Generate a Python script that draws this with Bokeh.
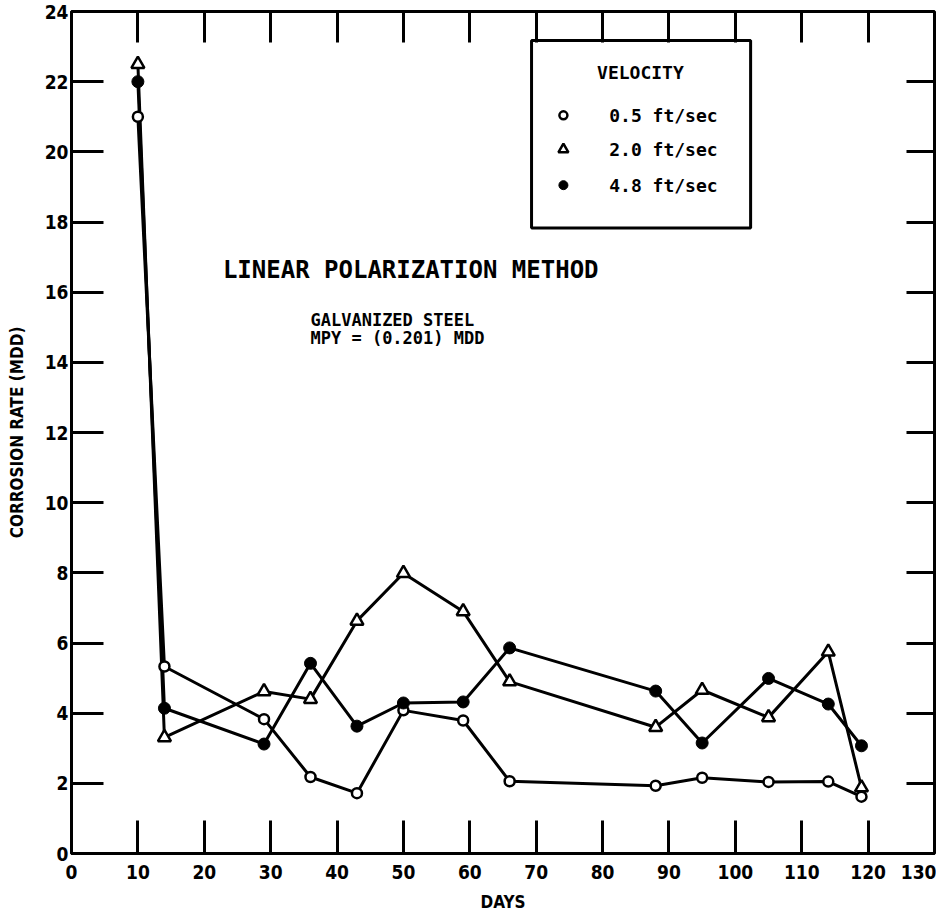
from bokeh.plotting import figure
from bokeh.models import LinearAxis, FixedTicker, Label, BoxAnnotation, Range1d
from bokeh.embed import file_html
from bokeh.resources import INLINE

# ---- data ----
days = [10, 14, 29, 36, 43, 50, 59, 66, 88, 95, 105, 114, 119]
rate_05 = [21.0, 5.33, 3.83, 2.18, 1.72, 4.08, 3.79, 2.06, 1.93, 2.16, 2.04, 2.05, 1.62]
rate_20 = [22.5, 3.31, 4.62, 4.40, 6.63, 7.99, 6.90, 4.90, 3.60, 4.66, 3.88, 5.75, 1.88]
rate_48 = [22.0, 4.14, 3.12, 5.42, 3.63, 4.29, 4.32, 5.86, 4.63, 3.15, 4.99, 4.26, 3.07]
series_labels = ["0.5 ft/sec", "2.0 ft/sec", "4.8 ft/sec"]
x_ticks = [0, 10, 20, 30, 40, 50, 60, 70, 80, 90, 100, 110, 120, 130]
y_ticks = [0, 2, 4, 6, 8, 10, 12, 14, 16, 18, 20, 22, 24]

COND = "DejaVu Sans Condensed, Roboto"
MONO = "DejaVu Sans Mono"

p = figure(width=936, height=914,
           x_range=Range1d(0, 130), y_range=Range1d(0, 24),
           output_backend="svg", toolbar_location=None,
           min_border_left=71, min_border_right=2,
           min_border_top=11, min_border_bottom=56)
p.grid.visible = False
p.outline_line_color = "black"
p.outline_line_width = 3
p.background_fill_color = "white"

# bottom axis: inward ticks as minor ticks; the last label sits just inside the corner
last_label_pos = 128.5
xa = p.xaxis[0]
xa.ticker = FixedTicker(ticks=x_ticks[:-1] + [last_label_pos], minor_ticks=x_ticks[1:-1])
xa.major_label_overrides = {last_label_pos: str(x_ticks[-1])}
xa.major_tick_line_color = None
xa.major_tick_in = 0
xa.major_tick_out = 0
xa.minor_tick_in = 33
xa.minor_tick_out = 0
xa.minor_tick_line_width = 3
xa.minor_tick_line_color = "black"
xa.major_label_text_font = COND
xa.major_label_text_font_style = "bold"
xa.major_label_text_font_size = "19px"
xa.major_label_text_color = "black"
xa.major_label_standoff = 11
xa.axis_line_width = 3
xa.axis_label = "DAYS"
xa.axis_label_text_font = COND
xa.axis_label_text_font_style = "bold"
xa.axis_label_text_font_size = "17px"
xa.axis_label_text_color = "black"
xa.axis_label_standoff = 10

ya = p.yaxis[0]
ya.ticker = FixedTicker(ticks=y_ticks)
ya.major_tick_in = 32
ya.major_tick_out = 0
ya.major_tick_line_width = 3
ya.minor_tick_line_color = None
ya.major_label_text_font = COND
ya.major_label_text_font_style = "bold"
ya.major_label_text_font_size = "19px"
ya.major_label_text_color = "black"
ya.major_label_standoff = 3
ya.axis_line_width = 3
ya.axis_label = "CORROSION RATE (MDD)"
ya.axis_label_text_font = COND
ya.axis_label_text_font_style = "bold"
ya.axis_label_text_font_size = "17px"
ya.axis_label_text_color = "black"
ya.axis_label_standoff = 15

top_axis = LinearAxis(ticker=FixedTicker(ticks=[], minor_ticks=x_ticks[1:-1]),
                      major_tick_line_color=None, major_tick_in=0, major_tick_out=0,
                      minor_tick_in=31, minor_tick_out=0, minor_tick_line_width=3,
                      minor_tick_line_color="black", axis_line_color=None,
                      major_label_standoff=0)
p.add_layout(top_axis, "above")
right_axis = LinearAxis(ticker=FixedTicker(ticks=[], minor_ticks=y_ticks[1:-1]),
                        major_tick_line_color=None, major_tick_in=0, major_tick_out=0,
                        minor_tick_in=28, minor_tick_out=0, minor_tick_line_width=3,
                        minor_tick_line_color="black", axis_line_color=None,
                        major_label_standoff=0)
p.add_layout(right_axis, "right")

# series
series = [rate_05, rate_20, rate_48]
for vals in series:
    p.line(days, vals, line_color="black", line_width=3)

marker_styles = [
    dict(marker="circle", size=10, fill_color="white", line_color="black", line_width=2.5),
    dict(marker="triangle", size=13, fill_color="white", line_color="black", line_width=2.5),
    dict(marker="circle", size=12, fill_color="black", line_color="black", line_width=1),
]
for vals, st in zip(series, marker_styles):
    p.scatter(days, vals, **st)

# legend box (hand-built)
p.add_layout(BoxAnnotation(left=69.3, right=102.3, top=23.17, bottom=17.83,
                           fill_color=None, line_color="black", line_alpha=1.0,
                           line_width=3))
p.add_layout(Label(x=85.7, y=22.26, text="VELOCITY", text_align="center",
                   text_baseline="middle", text_font=MONO, text_font_style="bold",
                   text_font_size="18px", text_color="black"))
legend_rows = [21.04, 20.07, 19.05]
legend_sizes = [8, 10, 9]
for lab, st, ry, sz in zip(series_labels, marker_styles, legend_rows, legend_sizes):
    st2 = dict(st)
    st2["size"] = sz
    p.scatter([74.1], [ry], **st2)
    p.add_layout(Label(x=81.0, y=ry, text=lab, text_align="left",
                       text_baseline="middle", text_font=MONO, text_font_style="bold",
                       text_font_size="18px", text_color="black"))

# annotations
p.add_layout(Label(x=51.1, y=16.63, text="LINEAR POLARIZATION METHOD",
                   text_align="center", text_baseline="middle", text_font=MONO,
                   text_font_style="bold", text_font_size="24px", text_color="black"))
p.add_layout(Label(x=36.0, y=15.21, text="GALVANIZED STEEL", text_align="left",
                   text_baseline="middle", text_font=MONO, text_font_style="bold",
                   text_font_size="17px", text_color="black"))
p.add_layout(Label(x=36.0, y=14.70, text="MPY = (0.201) MDD", text_align="left",
                   text_baseline="middle", text_font=MONO, text_font_style="bold",
                   text_font_size="17px", text_color="black"))

open("out.html", "w").write(file_html(p, INLINE))
